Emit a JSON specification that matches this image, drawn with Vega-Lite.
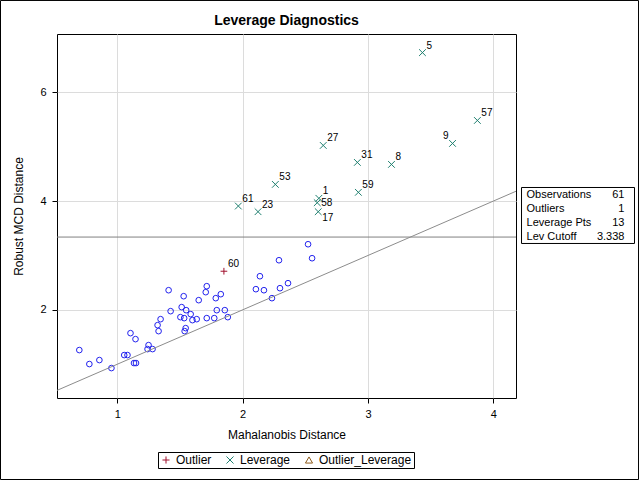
{
  "$schema": "https://vega.github.io/schema/vega-lite/v6.json",
  "width": 459,
  "height": 364,
  "autosize": {"type": "none"},
  "padding": {"left": 57, "top": 34, "right": 123, "bottom": 82},
  "background": "white",
  "title": {"text": "Leverage Diagnostics", "fontSize": 14, "fontWeight": "bold", "font": "Liberation Sans", "anchor": "middle", "offset": -28, "color": "black"},
  "config": {
    "font": "Liberation Sans",
    "view": {"stroke": "black", "strokeWidth": 1},
    "axis": {
      "domain": false,
      "grid": true,
      "gridColor": "#dcdcdc",
      "gridWidth": 1,
      "tickColor": "black",
      "tickSize": 5,
      "labelColor": "black",
      "labelFontSize": 11,
      "labelFont": "Liberation Sans",
      "titleFont": "Liberation Sans",
      "titleFontSize": 12,
      "titleFontWeight": "normal",
      "titleColor": "black"
    }
  },
  "datasets": {
    "points": [
      {"id": null, "md": 0.698, "rd": 1.261, "type": "Normal"},
      {"id": null, "md": 0.778, "rd": 1.004, "type": "Normal"},
      {"id": null, "md": 0.858, "rd": 1.077, "type": "Normal"},
      {"id": null, "md": 0.954, "rd": 0.930, "type": "Normal"},
      {"id": null, "md": 1.106, "rd": 1.572, "type": "Normal"},
      {"id": null, "md": 1.146, "rd": 1.462, "type": "Normal"},
      {"id": null, "md": 1.056, "rd": 1.169, "type": "Normal"},
      {"id": null, "md": 1.082, "rd": 1.169, "type": "Normal"},
      {"id": null, "md": 1.134, "rd": 1.022, "type": "Normal"},
      {"id": null, "md": 1.150, "rd": 1.022, "type": "Normal"},
      {"id": null, "md": 1.250, "rd": 1.352, "type": "Normal"},
      {"id": null, "md": 1.242, "rd": 1.279, "type": "Normal"},
      {"id": null, "md": 1.282, "rd": 1.279, "type": "Normal"},
      {"id": null, "md": 1.322, "rd": 1.719, "type": "Normal"},
      {"id": null, "md": 1.346, "rd": 1.829, "type": "Normal"},
      {"id": null, "md": 1.330, "rd": 1.609, "type": "Normal"},
      {"id": null, "md": 1.410, "rd": 2.361, "type": "Normal"},
      {"id": null, "md": 1.426, "rd": 1.976, "type": "Normal"},
      {"id": null, "md": 1.514, "rd": 2.050, "type": "Normal"},
      {"id": null, "md": 1.504, "rd": 1.866, "type": "Normal"},
      {"id": null, "md": 1.530, "rd": 2.251, "type": "Normal"},
      {"id": null, "md": 1.534, "rd": 1.848, "type": "Normal"},
      {"id": null, "md": 1.550, "rd": 1.994, "type": "Normal"},
      {"id": null, "md": 1.546, "rd": 1.664, "type": "Normal"},
      {"id": null, "md": 1.538, "rd": 1.609, "type": "Normal"},
      {"id": null, "md": 1.586, "rd": 1.921, "type": "Normal"},
      {"id": null, "md": 1.600, "rd": 1.811, "type": "Normal"},
      {"id": null, "md": 1.634, "rd": 1.829, "type": "Normal"},
      {"id": null, "md": 1.650, "rd": 2.178, "type": "Normal"},
      {"id": null, "md": 1.706, "rd": 2.325, "type": "Normal"},
      {"id": null, "md": 1.714, "rd": 2.435, "type": "Normal"},
      {"id": null, "md": 1.714, "rd": 1.848, "type": "Normal"},
      {"id": null, "md": 1.774, "rd": 1.848, "type": "Normal"},
      {"id": null, "md": 1.786, "rd": 2.215, "type": "Normal"},
      {"id": null, "md": 1.794, "rd": 1.994, "type": "Normal"},
      {"id": null, "md": 1.826, "rd": 2.288, "type": "Normal"},
      {"id": null, "md": 1.858, "rd": 1.994, "type": "Normal"},
      {"id": null, "md": 1.882, "rd": 1.866, "type": "Normal"},
      {"id": null, "md": 2.106, "rd": 2.380, "type": "Normal"},
      {"id": null, "md": 2.138, "rd": 2.618, "type": "Normal"},
      {"id": null, "md": 2.170, "rd": 2.361, "type": "Normal"},
      {"id": null, "md": 2.234, "rd": 2.215, "type": "Normal"},
      {"id": null, "md": 2.290, "rd": 2.912, "type": "Normal"},
      {"id": null, "md": 2.298, "rd": 2.398, "type": "Normal"},
      {"id": null, "md": 2.362, "rd": 2.490, "type": "Normal"},
      {"id": null, "md": 2.522, "rd": 3.206, "type": "Normal"},
      {"id": null, "md": 2.554, "rd": 2.949, "type": "Normal"},
      {"id": 60, "md": 1.851, "rd": 2.710, "type": "Outlier"},
      {"id": 5, "md": 3.434, "rd": 6.728, "type": "Leverage"},
      {"id": 57, "md": 3.872, "rd": 5.481, "type": "Leverage"},
      {"id": 9, "md": 3.674, "rd": 5.059, "type": "Leverage"},
      {"id": 27, "md": 2.643, "rd": 5.022, "type": "Leverage"},
      {"id": 31, "md": 2.915, "rd": 4.710, "type": "Leverage"},
      {"id": 8, "md": 3.187, "rd": 4.673, "type": "Leverage"},
      {"id": 53, "md": 2.261, "rd": 4.306, "type": "Leverage"},
      {"id": 59, "md": 2.923, "rd": 4.160, "type": "Leverage"},
      {"id": 1, "md": 2.608, "rd": 4.050, "type": "Leverage"},
      {"id": 58, "md": 2.595, "rd": 3.969, "type": "Leverage"},
      {"id": 17, "md": 2.603, "rd": 3.804, "type": "Leverage"},
      {"id": 61, "md": 1.966, "rd": 3.908, "type": "Leverage"},
      {"id": 23, "md": 2.123, "rd": 3.804, "type": "Leverage"}
    ],
    "stats": [
      {"stat": "Observations", "value": "61"},
      {"stat": "Outliers", "value": "1"},
      {"stat": "Leverage Pts", "value": "13"},
      {"stat": "Lev Cutoff", "value": "3.338"}
    ],
    "cutoff": [{"cutoff": 3.338}],
    "diagonal": [{"from": 0.52, "to": 4.18}]
  },
  "layer": [
    {
      "layer": [
        {
          "data": {"name": "points"},
          "transform": [{"filter": "datum.type == 'Normal'"}],
          "mark": {"type": "point", "shape": "circle", "filled": false, "stroke": "#2222ee", "strokeWidth": 1, "size": 32, "opacity": 1},
          "encoding": {
            "x": {"field": "md", "type": "quantitative", "title": "Mahalanobis Distance",
                  "scale": {"domain": [0.52, 4.18], "zero": false, "nice": false},
                  "axis": {"values": [1, 2, 3, 4], "format": "d", "labelPadding": 5, "titlePadding": 10}},
            "y": {"field": "rd", "type": "quantitative", "title": "Robust MCD Distance",
                  "scale": {"domain": [0.38, 7.07], "zero": false, "nice": false},
                  "axis": {"values": [2, 4, 6], "format": "d", "labelPadding": 6, "titlePadding": 14}}
          }
        },
        {
          "data": {"name": "cutoff"},
          "mark": {"type": "rule", "color": "#808080", "strokeWidth": 1},
          "encoding": {"y": {"field": "cutoff", "type": "quantitative"}}
        },
        {
          "data": {"name": "diagonal"},
          "mark": {"type": "rule", "color": "#8c8c8c", "strokeWidth": 1},
          "encoding": {
            "x": {"field": "from", "type": "quantitative"},
            "x2": {"field": "to"},
            "y": {"field": "from", "type": "quantitative"},
            "y2": {"field": "to"}
          }
        },
        {
          "data": {"name": "points"},
          "transform": [{"filter": "datum.type != 'Normal'"}],
          "mark": {"type": "point", "filled": false, "strokeWidth": 1, "size": 45, "opacity": 1},
          "encoding": {
            "x": {"field": "md", "type": "quantitative"},
            "y": {"field": "rd", "type": "quantitative"},
            "color": {"field": "type", "type": "nominal",
                      "scale": {"domain": ["Outlier", "Leverage", "Outlier_Leverage"], "range": ["#a0102c", "#1f7f6f", "#8c5a1a"]},
                      "legend": {"orient": "none", "legendX": 101, "legendY": 418, "direction": "horizontal", "title": null,
                                 "strokeColor": "black", "fillColor": "white", "padding": 2, "labelFontSize": 12, "labelFont": "Liberation Sans",
                                 "labelColor": "black", "symbolSize": 50, "symbolStrokeWidth": 1, "columnPadding": 12, "labelOffset": 4}},
            "shape": {"field": "type", "type": "nominal",
                      "scale": {"domain": ["Outlier", "Leverage", "Outlier_Leverage"], "range": ["M-1,0L1,0M0,-1L0,1", "M-1,-1L1,1M-1,1L1,-1", "triangle-up"]},
                      "legend": {"orient": "none", "legendX": 101, "legendY": 418, "direction": "horizontal", "title": null,
                                 "strokeColor": "black", "fillColor": "white", "padding": 2, "labelFontSize": 12, "labelFont": "Liberation Sans",
                                 "labelColor": "black", "symbolSize": 50, "symbolStrokeWidth": 1, "columnPadding": 12, "labelOffset": 4}}
          }
        },
        {
          "data": {"name": "points"},
          "transform": [{"filter": "datum.type != 'Normal' && datum.id != 9 && datum.id != 58 && datum.id != 17"}],
          "mark": {"type": "text", "align": "left", "baseline": "middle", "dx": 4, "dy": -7, "fontSize": 10, "color": "black"},
          "encoding": {"x": {"field": "md", "type": "quantitative"}, "y": {"field": "rd", "type": "quantitative"}, "text": {"field": "id", "type": "nominal"}}
        },
        {
          "data": {"name": "points"},
          "transform": [{"filter": "datum.id == 9"}],
          "mark": {"type": "text", "align": "right", "baseline": "middle", "dx": -4, "dy": -7, "fontSize": 10, "color": "black"},
          "encoding": {"x": {"field": "md", "type": "quantitative"}, "y": {"field": "rd", "type": "quantitative"}, "text": {"field": "id", "type": "nominal"}}
        },
        {
          "data": {"name": "points"},
          "transform": [{"filter": "datum.id == 58"}],
          "mark": {"type": "text", "align": "left", "baseline": "middle", "dx": 4, "dy": 0, "fontSize": 10, "color": "black"},
          "encoding": {"x": {"field": "md", "type": "quantitative"}, "y": {"field": "rd", "type": "quantitative"}, "text": {"field": "id", "type": "nominal"}}
        },
        {
          "data": {"name": "points"},
          "transform": [{"filter": "datum.id == 17"}],
          "mark": {"type": "text", "align": "left", "baseline": "middle", "dx": 4, "dy": 6, "fontSize": 10, "color": "black"},
          "encoding": {"x": {"field": "md", "type": "quantitative"}, "y": {"field": "rd", "type": "quantitative"}, "text": {"field": "id", "type": "nominal"}}
        },
        {
          "data": {"values": [{"a": 1}]},
          "mark": {"type": "rect", "fill": "white", "stroke": "black", "strokeWidth": 1},
          "encoding": {
            "x": {"datum": 4.224, "type": "quantitative"},
            "x2": {"datum": 5.125},
            "y": {"datum": 4.249, "type": "quantitative"},
            "y2": {"datum": 3.220}
          }
        },
        {
          "data": {"values": [{"a": 1}]},
          "mark": {"type": "rect", "fill": "transparent", "stroke": "black", "strokeWidth": 1},
          "encoding": {
            "x": {"datum": 0.0695, "type": "quantitative"},
            "x2": {"datum": 5.157},
            "y": {"datum": 7.686, "type": "quantitative"},
            "y2": {"datum": -1.118}
          }
        }
      ]
    },
    {
      "data": {"name": "stats"},
      "layer": [
        {
          "mark": {"type": "text", "align": "left", "baseline": "middle", "fontSize": 11, "color": "black"},
          "encoding": {
            "y": {"field": "stat", "type": "ordinal", "sort": null, "scale": {"type": "point", "padding": 0, "range": [161, 202.7]}, "axis": null},
            "x": {"datum": 4.264, "type": "quantitative"},
            "text": {"field": "stat", "type": "nominal"}
          }
        },
        {
          "mark": {"type": "text", "align": "right", "baseline": "middle", "fontSize": 11, "color": "black"},
          "encoding": {
            "y": {"field": "stat", "type": "ordinal", "sort": null, "scale": {"type": "point", "padding": 0, "range": [161, 202.7]}, "axis": null},
            "x": {"datum": 5.045, "type": "quantitative"},
            "text": {"field": "value", "type": "nominal"}
          }
        }
      ]
    }
  ],
  "resolve": {"scale": {"y": "independent"}}
}
